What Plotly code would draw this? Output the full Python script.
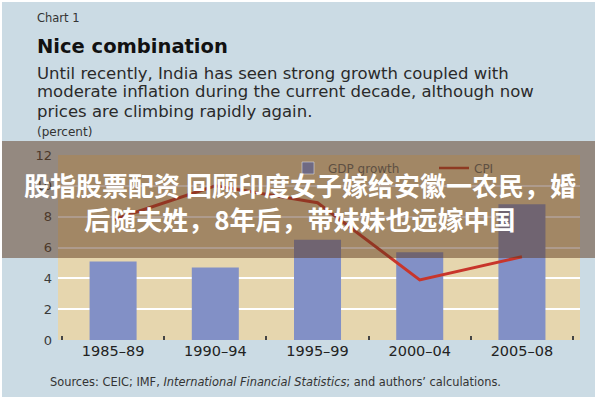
import plotly.graph_objects as go

categories = ["1985–89", "1990–94", "1995–99", "2000–04", "2005–08"]
gdp_growth = [5.1, 4.7, 6.5, 5.7, 8.8]
cpi = [7.8, 10.0, 8.9, 3.9, 5.4]
y_ticks = [0, 2, 4, 6, 8, 10, 12]

W, H = 600, 400
L, R, T, B = 58, 20, 155, 60
PW, PH = W - L - R, H - T - B

def px(x):
    return (x - L) / PW

def py(y):
    return (H - B - y) / PH

BAR = "#8290c6"
RED = "#c8352b"
BG = "#cbdbe4"
PLOT_BG = "#e6d6ae"
FONT = "DejaVu Sans"

fig = go.Figure()
fig.add_trace(go.Bar(x=categories, y=gdp_growth, width=0.46, marker=dict(color=BAR, line=dict(width=0)),
                     name="GDP growth", showlegend=False))
fig.add_trace(go.Scatter(x=categories, y=cpi, mode="lines", line=dict(color=RED, width=3),
                         name="CPI", showlegend=False))
# legend entries (they sit under the dark band in the reference, so darkened)
fig.add_trace(go.Bar(x=[None], y=[None], marker=dict(color="#6f6a83"), name="GDP growth"))
fig.add_trace(go.Scatter(x=[None], y=[None], mode="lines", line=dict(color="#8e3a22", width=2.5), name="CPI"))

fig.update_layout(
    width=W, height=H,
    margin=dict(l=L, r=R, t=T, b=B, autoexpand=False),
    paper_bgcolor=BG, plot_bgcolor=PLOT_BG,
    font=dict(family=FONT, color="#333"),
    legend=dict(orientation="h", x=px(288), y=py(168), xanchor="left", yanchor="middle",
                bgcolor="rgba(0,0,0,0)", font=dict(size=12, color="#5e5043", family=FONT),
                itemwidth=30, entrywidth=101, traceorder="normal"),
    xaxis=dict(tickson="boundaries", ticks="inside", ticklen=4, tickwidth=1.5, tickcolor="#444",
               showgrid=False, zeroline=False, showline=False,
               tickfont=dict(size=14.5, color="#222", family=FONT), range=[-0.539, 4.568]),
    yaxis=dict(range=[0, 12], tickvals=y_ticks, showgrid=True, gridcolor="white", gridwidth=1.5,
               zeroline=False, showline=False, ticks="", ticklabelstandoff=5,
               tickfont=dict(size=13, color="#3a3a3a", family=FONT)),
)

def label(x, y, text, size, color="#2a2a2a", family=FONT, anchor="left"):
    return dict(x=px(x), y=py(y), xref="paper", yref="paper", xanchor=anchor, yanchor="middle",
                text=text, showarrow=False, font=dict(size=size, color=color, family=family))

ann = [
    label(35, 18, "Chart 1", 11.5, "#333"),
    label(35, 46, "<b>Nice combination</b>", 19.5, "#111"),
    label(35, 73, "Until recently, India has seen strong growth coupled with", 16.5),
    label(35, 92, "moderate inflation during the current decade, although now", 16.5),
    label(35, 111, "prices are climbing rapidly again.", 16.5),
    label(35, 132, "(percent)", 12, "#333"),
    label(48, 382, "Sources: CEIC; IMF, <i>International Financial Statistics</i>; and authors’ calculations.",
          11.4, "#333"),
    label(300, 201, "<b>股指股票配资 回顾印度女子嫁给安徽一农民，婚<br>后随夫姓，8年后，带妹妹也远嫁中国</b>",
          26, "white", "Noto Sans CJK SC", "center"),
]
fig.update_layout(annotations=ann)

def rect(x0, y0, x1, y1, fill):
    return dict(type="rect", xref="paper", yref="paper", x0=px(x0), x1=px(x1), y0=py(y1), y1=py(y0),
                fillcolor=fill, line=dict(width=0), layer="above")

fig.update_layout(shapes=[
    rect(0, 141, 600, 258, "rgba(93,56,28,0.5)"),
    rect(0, 0, 600, 2, "white"),
    rect(0, 397, 600, 400, "white"),
    rect(0, 0, 2, 400, "white"),
    rect(595, 0, 600, 400, "white"),
])

fig.write_html("out.html", config={"displayModeBar": False},
               post_script="document.body.style.margin='0px';")
